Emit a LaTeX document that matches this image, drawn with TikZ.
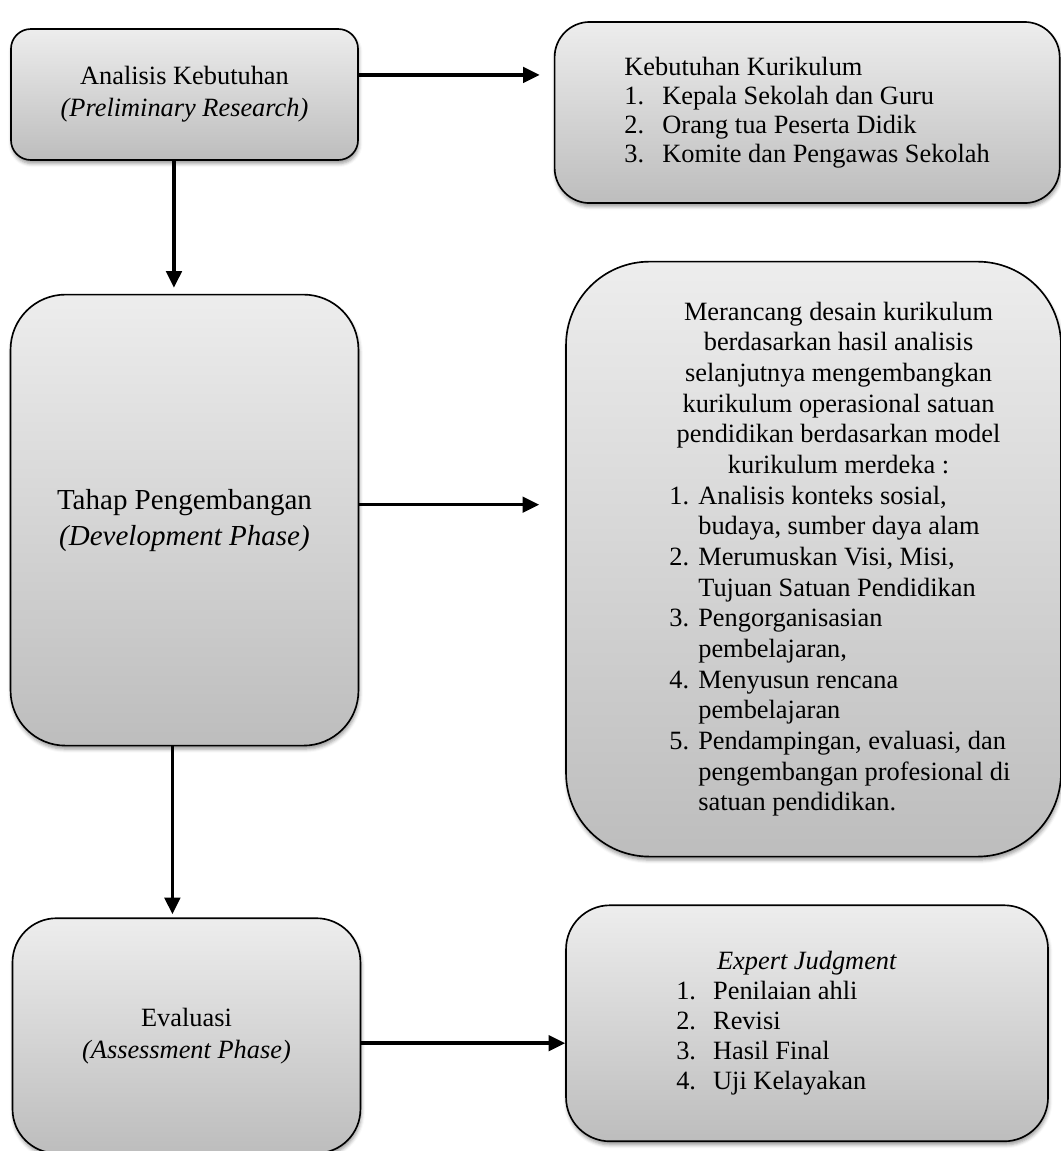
\documentclass[tikz,border=0pt]{standalone}
\usepackage{fontspec}
\setmainfont{Liberation Serif}
\usetikzlibrary{arrows.meta,positioning,shadows.blur}

\definecolor{boxtop}{RGB}{237,237,237}
\definecolor{boxbot}{RGB}{189,189,189}

% numbered line and its continuation, as in the word-processor lists
\newcommand{\numline}[3][13.2pt]{\makebox[#1][l]{#2}\mbox{#3}}
\newcommand{\contline}[2][13.2pt]{\hspace*{#1}\mbox{#2}}

\begin{document}
\begin{tikzpicture}[
  x=0.455pt, y=-0.455pt,
  font=\fontsize{12}{14.5}\selectfont,
  >=Triangle,
  gbox/.style={draw, line width=0.75pt, top color=boxtop, bottom color=boxbot,
               rounded corners=9pt, inner sep=2pt,
               blur shadow={shadow xshift=0.4pt, shadow yshift=-1.6pt,
                            shadow blur radius=1.6pt, shadow opacity=40}},
  phase/.style={gbox, align=center},
  arr/.style={-{Triangle[length=7.6pt,width=7pt]}, line width=1.6pt}
]
  \useasboundingbox (0,0) rectangle (1060,1151);
  % left column: the three phases
  \node[phase, minimum width=157.9pt, minimum height=59.6pt] (anal) at (184.5,94.5)
       {Analisis Kebutuhan\\\textit{(Preliminary Research)}};
  \node[phase, minimum width=158.3pt, minimum height=205.2pt, rounded corners=25pt,
        font=\fontsize{13.2}{16.4}\selectfont, below=60.5pt of anal] (dev)
       {Tahap Pengembangan\\\textit{(Development Phase)}};
  \node[phase, minimum width=158.3pt, minimum height=106.9pt, rounded corners=20pt,
        font=\fontsize{12}{14.6}\selectfont, below=77.8pt of dev, xshift=0.9pt] (eval)
       {Evaluasi\\\textit{(Assessment Phase)}};
  % right column: what each phase produces
  \node[gbox, align=left, minimum width=229.8pt, minimum height=82.4pt, rounded corners=16pt,
        font=\fontsize{12}{13.2}\selectfont,
        right=88.7pt of anal.north east, anchor=north west, yshift=3.2pt] (kebut)
       {Kebutuhan Kurikulum\\
        \numline[17.3pt]{1.}{Kepala Sekolah dan Guru}\\
        \numline[17.3pt]{2.}{Orang tua Peserta Didik}\\
        \numline[17.3pt]{3.}{Komite dan Pengawas Sekolah}};
  \node[gbox, minimum width=225.2pt, minimum height=270.7pt, rounded corners=38pt,
        right=93.7pt of dev.north east, anchor=north west, yshift=15pt] (rancang)
       {\hspace{22.8pt}\begin{minipage}{154pt}\fontsize{12}{13.95}\selectfont
        \centering Merancang desain kurikulum\\
        berdasarkan hasil analisis\\
        selanjutnya mengembangkan\\
        kurikulum operasional satuan\\
        pendidikan berdasarkan model\\
        kurikulum merdeka :\par
        \raggedright\noindent
        \numline{1.}{Analisis konteks sosial,}\\
        \contline{budaya, sumber daya alam}\\
        \numline{2.}{Merumuskan Visi, Misi,}\\
        \contline{Tujuan Satuan Pendidikan}\\
        \numline{3.}{Pengorganisasian}\\
        \contline{pembelajaran,}\\
        \numline{4.}{Menyusun rencana}\\
        \contline{pembelajaran}\\
        \numline{5.}{Pendampingan, evaluasi, dan}\\
        \contline{pengembangan profesional di}\\
        \contline{satuan pendidikan.}
        \end{minipage}};
  \node[gbox, minimum width=219.3pt, minimum height=107.4pt, rounded corners=20pt,
        right=92.8pt of eval.north east, anchor=north west, yshift=5.9pt] (expert)
       {\begin{minipage}{119pt}\fontsize{12}{13.65}\selectfont
        \centering\textit{Expert Judgment}\par
        \raggedright\noindent
        \numline[16.8pt]{1.}{Penilaian ahli}\\
        \numline[16.8pt]{2.}{Revisi}\\
        \numline[16.8pt]{3.}{Hasil Final}\\
        \numline[16.8pt]{4.}{Uji Kelayakan}
        \end{minipage}};
  % connectors
  \coordinate (ab) at ([yshift=8.9pt]anal.east);
  \draw[arr, shorten >=6.4pt] (ab) -- (ab -| kebut.west);
  \coordinate (cd) at ([yshift=7pt]dev.east);
  \draw[arr, shorten >=11.8pt] (cd) -- (cd -| rancang.west);
  \coordinate (ef) at ([yshift=-3.4pt]eval.east);
  \draw[arr] (ef) -- (ef -| expert.west);
  \coordinate (ac) at ([xshift=-4.8pt]anal.south);
  \draw[arr, shorten >=2.7pt] (ac) -- (ac |- dev.north);
  \coordinate (ce) at ([xshift=-5.5pt]dev.south);
  \draw[arr, shorten >=1.4pt] (ce) -- (ce |- eval.north);
\end{tikzpicture}
\end{document}
